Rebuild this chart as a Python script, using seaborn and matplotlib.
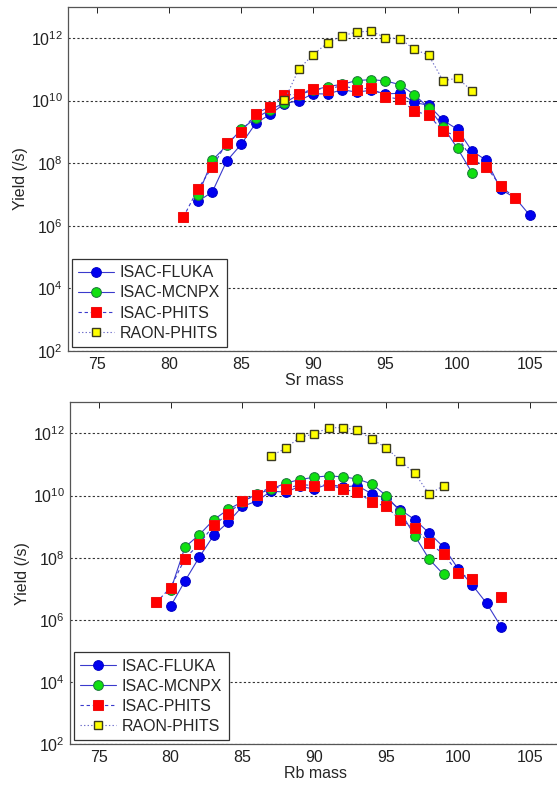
import numpy as np
import pandas as pd
import seaborn as sns
import matplotlib
matplotlib.use('Agg')
import matplotlib.pyplot as plt
from matplotlib.ticker import NullLocator

# Sr isotopes (top panel), log10 of yield
sr_fluka_mass = list(range(82, 106))
sr_fluka_log = [6.78, 7.08, 8.07, 8.60, 9.27, 9.56, 9.90, 10.00, 10.22, 10.21, 10.35, 10.27,
                10.33, 10.22, 10.23, 9.94, 9.85, 9.37, 9.08, 8.39, 8.09, 7.16, 6.89, 6.34]
sr_mcnpx_mass = list(range(82, 102))
sr_mcnpx_log = [6.97, 8.09, 8.57, 9.08, 9.44, 9.70, 9.93, 10.19, 10.33, 10.45, 10.52, 10.64,
                10.67, 10.63, 10.51, 10.19, 9.77, 9.16, 8.47, 7.70]
sr_phits_mass = list(range(81, 105))
sr_phits_log = [6.28, 7.17, 7.88, 8.65, 9.00, 9.57, 9.81, 10.18, 10.20, 10.38, 10.35, 10.49,
                10.35, 10.41, 10.13, 10.04, 9.67, 9.53, 9.03, 8.86, 8.12, 7.88, 7.26, 6.89]
sr_raon_mass = list(range(88, 102))
sr_raon_log = [10.01, 11.01, 11.47, 11.85, 12.07, 12.19, 12.22, 12.01, 11.98, 11.64, 11.45,
               10.63, 10.72, 10.31]

# Rb isotopes (bottom panel), log10 of yield
rb_fluka_mass = list(range(80, 104))
rb_fluka_log = [6.44, 7.25, 8.02, 8.72, 9.14, 9.65, 9.82, 10.14, 10.11, 10.29, 10.21, 10.37,
                10.27, 10.32, 10.05, 9.91, 9.54, 9.22, 8.79, 8.34, 7.65, 7.12, 6.53, 5.78]
rb_mcnpx_mass = list(range(80, 100))
rb_mcnpx_log = [6.95, 8.34, 8.74, 9.22, 9.55, 9.80, 10.05, 10.20, 10.40, 10.51, 10.59, 10.63,
                10.60, 10.53, 10.37, 10.00, 9.47, 8.70, 7.95, 7.46]
rb_phits_mass = list(range(79, 104))
rb_phits_log = [6.56, 7.04, 7.97, 8.45, 9.04, 9.41, 9.82, 10.02, 10.29, 10.21, 10.35, 10.32,
                10.35, 10.20, 10.11, 9.79, 9.65, 9.20, 8.95, 8.48, 8.11, 7.52, 7.31, np.nan, 6.74]
rb_raon_mass = list(range(87, 100))
rb_raon_log = [11.27, 11.52, 11.87, 11.98, 12.18, 12.18, 12.11, 11.81, 11.54, 11.11, 10.71,
               10.04, 10.32]

labels = ['ISAC-FLUKA', 'ISAC-MCNPX', 'ISAC-PHITS', 'RAON-PHITS']
yticks = [1e2, 1e4, 1e6, 1e8, 1e10, 1e12]

sns.set_style('white')
plt.rcParams['font.family'] = ['Liberation Sans', 'DejaVu Sans']
plt.rcParams['mathtext.fontset'] = 'custom'
plt.rcParams['mathtext.rm'] = 'Liberation Sans'
plt.rcParams['mathtext.it'] = 'Liberation Sans:italic'
plt.rcParams['mathtext.bf'] = 'Liberation Sans:bold'

line_col = '#3a3acc'
styles = [
    dict(marker='o', markersize=7, markerfacecolor='#0000f0', markeredgecolor='#0000c8',
         color=line_col, linestyle='-', linewidth=0.8),
    dict(marker='o', markersize=7, markerfacecolor='#10e010', markeredgecolor='#1c7a3c',
         color=line_col, linestyle='-', linewidth=0.8),
    dict(marker='s', markersize=6.5, markerfacecolor='#ff0000', markeredgecolor='#f01010',
         color=line_col, linestyle=(0, (3, 2.5)), linewidth=0.8),
    dict(marker='s', markersize=6, markerfacecolor='#ffff00', markeredgecolor='#3a3a20',
         markeredgewidth=1.0, color='#6a6ac8', linestyle=(0, (1.2, 2)), linewidth=0.8),
]


def draw(ax, mass, logy, label, style):
    df = pd.DataFrame({'mass': mass, 'yield': 10.0 ** np.array(logy, dtype=float)})
    df['seg'] = df['yield'].isna().cumsum()
    df = df.dropna()
    for i, (_, part) in enumerate(df.groupby('seg')):
        sns.lineplot(data=part, x='mass', y='yield', ax=ax, estimator=None, sort=False,
                     label=label if i == 0 else None, **style)


fig = plt.figure(figsize=(5.57, 7.86), dpi=100)
ax1 = fig.add_axes([68 / 557, 1 - 351 / 786, 492 / 557, 344.3 / 786])
ax2 = fig.add_axes([70 / 557, 1 - 744.3 / 786, 490 / 557, 342.1 / 786])

panels = [
    (ax1, 'Sr mass', [(sr_fluka_mass, sr_fluka_log), (sr_mcnpx_mass, sr_mcnpx_log),
                      (sr_phits_mass, sr_phits_log), (sr_raon_mass, sr_raon_log)]),
    (ax2, 'Rb mass', [(rb_fluka_mass, rb_fluka_log), (rb_mcnpx_mass, rb_mcnpx_log),
                      (rb_phits_mass, rb_phits_log), (rb_raon_mass, rb_raon_log)]),
]

for ax, xlab, series in panels:
    for (m, v), lab, st in zip(series, labels, styles):
        draw(ax, m, v, lab, st)
    ax.set_yscale('log')
    ax.set_ylim(1e2, 1e13)
    ax.set_xlim(73, 107.1)
    ax.set_xticks([75, 80, 85, 90, 95, 100, 105])
    ax.set_yticks(yticks)
    ax.yaxis.set_minor_locator(NullLocator())
    ax.yaxis.grid(True, linestyle=(0, (2, 2)), color='#333333', linewidth=0.8)
    ax.xaxis.grid(False)
    ax.tick_params(direction='in', top=True, right=True, length=4, width=0.7,
                   labelsize=11.5, colors='#222222', pad=4)
    for sp in ax.spines.values():
        sp.set_visible(True)
        sp.set_color('#555555')
        sp.set_linewidth(0.9)
    ax.set_xlabel(xlab, fontsize=11.5, labelpad=1)
    ax.set_ylabel('Yield (/s)', fontsize=11.5, labelpad=2)
    leg = ax.legend(loc='lower left', fontsize=11.5, frameon=True, fancybox=False,
                    edgecolor='#333333', framealpha=1, borderaxespad=0.25,
                    labelspacing=0.32, handlelength=2.2, handletextpad=0.4,
                    borderpad=0.4)
    leg.get_frame().set_linewidth(0.9)

fig.savefig('out.png', dpi=100)
